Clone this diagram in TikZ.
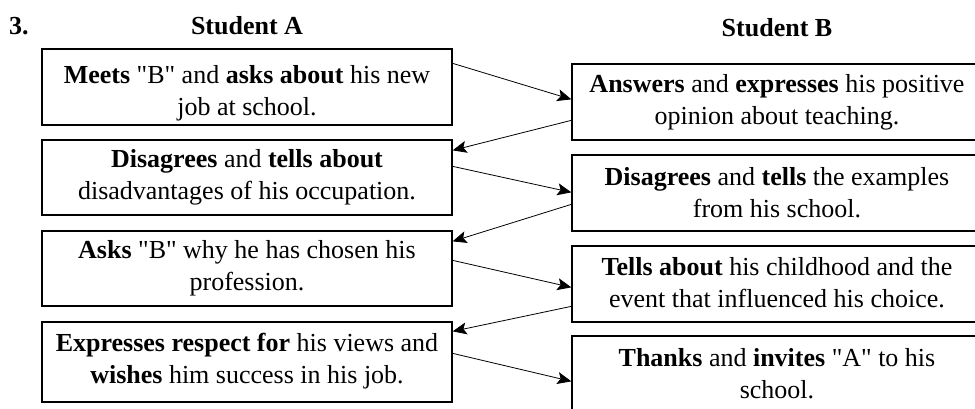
\documentclass[tikz,border=0pt]{standalone}
\usepackage{fontspec}
\setmainfont{Liberation Serif}
\newfontfamily\plainserif{Liberation Serif}
\usetikzlibrary{arrows.meta}
\begin{document}
\begin{tikzpicture}[x=1pt,y=-1pt,
  box/.style={draw, line width=1.3pt, minimum width=410pt, inner sep=0pt},
  txt/.style={align=center, inner sep=0pt, font=\plainserif\fontsize{26}{32}\selectfont},
  head/.style={font=\plainserif\fontsize{26}{32}\selectfont\bfseries, inner sep=0pt},
  conn/.style={line width=0.8pt, -{Stealth[length=14pt,width=12pt,inset=3pt]}}]
\useasboundingbox (0,0) rectangle (975,408);
\node[head, anchor=base west] (num) at (9,34) {3.};
\node[head, anchor=base] (ha) at (247,34) {Student A};
\node[head, anchor=base] (hb) at (777,36) {Student B};
\node[box, minimum height=76pt] (a1) at (247,87) {};
\node[box, minimum height=75pt] (a2) at (247,177.5) {};
\node[box, minimum height=75pt] (a3) at (247,268.5) {};
\node[box, minimum height=80pt] (a4) at (247,362) {};
\node[box, minimum height=76pt] (b1) at (777,102) {};
\node[box, minimum height=76pt] (b2) at (777,193) {};
\node[box, minimum height=76pt] (b3) at (777,284) {};
\node[box, minimum height=80pt] (b4) at (777,376) {};
\node[txt] (a1t) at ([yshift=-6pt]a1.center) {\textbf{Meets} "B" and \textbf{asks about} his new\\job at school.};
\node[txt] (a2t) at ([yshift=0pt]a2.center) {\textbf{Disagrees} and \textbf{tells about}\\disadvantages of his occupation.};
\node[txt] (a3t) at ([yshift=0pt]a3.center) {\textbf{Asks} "B" why he has chosen his\\profession.};
\node[txt] (a4t) at ([yshift=1pt]a4.center) {\textbf{Expresses respect for} his views and\\\textbf{wishes} him success in his job.};
\node[txt] (b1t) at ([yshift=0pt]b1.center) {\textbf{Answers} and \textbf{expresses} his positive\\opinion about teaching.};
\node[txt] (b2t) at ([yshift=0pt]b2.center) {\textbf{Disagrees} and \textbf{tells} the examples\\from his school.};
\node[txt] (b3t) at ([yshift=1pt]b3.center) {\textbf{Tells about} his childhood and the\\event that influenced his choice.};
\node[txt] (b4t) at ([yshift=2pt]b4.center) {\textbf{Thanks} and \textbf{invites} "A" to his\\school.};
\draw[conn] ([yshift=-15pt]a1.north east) -- ([yshift=-36pt]b1.north west);
\draw[conn] ([yshift=-57pt]b1.north west) -- ([yshift=-11pt]a2.north east);
\draw[conn] ([yshift=-27pt]a2.north east) -- ([yshift=-38pt]b2.north west);
\draw[conn] ([yshift=-50pt]b2.north west) -- ([yshift=-11pt]a3.north east);
\draw[conn] ([yshift=-30pt]a3.north east) -- ([yshift=-42pt]b3.north west);
\draw[conn] ([yshift=-61pt]b3.north west) -- ([yshift=-10pt]a4.north east);
\draw[conn] ([yshift=-32pt]a4.north east) -- ([yshift=-46pt]b4.north west);
\end{tikzpicture}
\end{document}
